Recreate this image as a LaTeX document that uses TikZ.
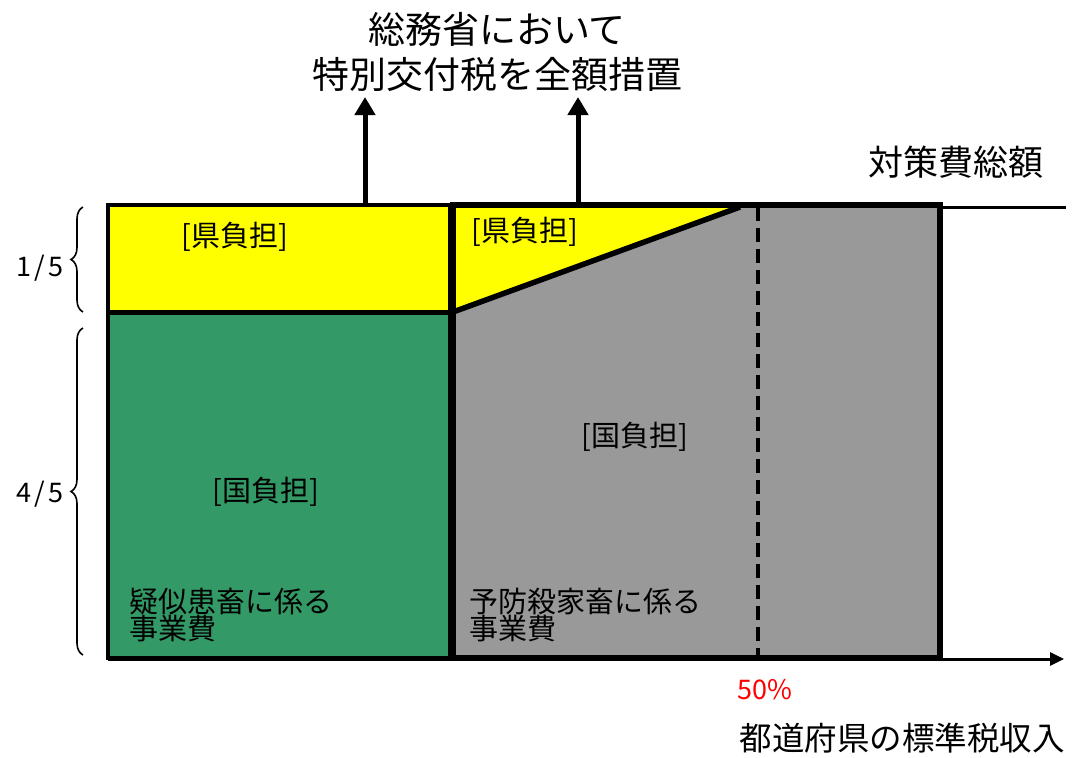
\documentclass[tikz,border=0pt]{standalone}
\usepackage{fontspec}
\setmainfont{Noto Sans CJK JP}
\usetikzlibrary{arrows.meta,decorations.pathreplacing}
\definecolor{bgreen}{RGB}{51,153,102}
\definecolor{bgray}{RGB}{153,153,153}
\definecolor{byellow}{RGB}{255,255,0}
\begin{document}
\begin{tikzpicture}[x=1pt,y=-1pt,
  lbl/.style={font=\fontsize{29}{27}\selectfont, inner sep=0pt},
  big/.style={font=\fontsize{37}{45}\selectfont, align=center, inner sep=0pt},
  frac/.style={font=\fontsize{27}{27}\selectfont, inner sep=0pt},
  uparrow/.style={line width=5pt, -{Triangle[width=20pt,length=18pt]}},
  bracestyle/.style={decorate, decoration={brace, amplitude=12pt}, line width=1.6pt}]
\useasboundingbox (0,0) rectangle (1072,758);
% left block
\fill[byellow] (108,205) rectangle (450,312);
\fill[bgreen] (108,312) rectangle (450,658);
\draw[line width=3.5pt] (108,205) rectangle (450,658);
\draw[line width=5pt] (108,312) -- (450,312);
% right block
\fill[bgray] (453,205) rectangle (940,658);
\fill[byellow] (453,205) -- (740,205) -- (453,312) -- cycle;
\draw[line width=5.5pt] (453,312) -- (740,207);
\draw[line width=4pt, dash pattern=on 14pt off 7pt] (758,207) -- (758,658);
\draw[line width=6pt] (453,205) rectangle (940,658);
\draw[line width=3pt] (940,207) -- (1066,207);
% axis
\coordinate (ax0) at (108,659);
\coordinate (ax1) at (1064,659);
\draw[line width=3pt, -{Triangle[width=13pt,length=14pt]}] (ax0) -- (ax1);
% up arrows
\coordinate (a1s) at (365,205);
\coordinate (a1e) at (365,97);
\coordinate (a2s) at (578,205);
\coordinate (a2e) at (578,97);
\draw[uparrow] (a1s) -- (a1e);
\draw[uparrow] (a2s) -- (a2e);
% texts
\node[big] (title) at (497,52) {総務省において\\特別交付税を全額措置};
\node[font=\fontsize{35}{40}\selectfont, inner sep=0pt] (total) at (956,162) {対策費総額};
\node[lbl] (kenL) at (235,237) {[県負担]};
\node[lbl] (kenR) at (525,232) {[県負担]};
\node[lbl] (kokuL) at (266,492) {[国負担]};
\node[lbl] (kokuR) at (635,437) {[国負担]};
\node[lbl, align=left, anchor=north west] (jigyoL) at (129,588) {疑似患畜に係る\\事業費};
\node[lbl, align=left, anchor=north west] (jigyoR) at (469,588) {予防殺家畜に係る\\事業費};
\node[frac] (f1) at (40,268) {1\hspace{3pt}/\hspace{3pt}5};
\node[frac] (f4) at (40,494) {4\hspace{3pt}/\hspace{3pt}5};
\node[font=\fontsize{27}{27}\selectfont, text=red, inner sep=0pt] (pct) at (765,690) {50\%};
\node[font=\fontsize{32.5}{36}\selectfont, inner sep=0pt] (std) at (902,738) {都道府県の標準税収入};
% braces
\coordinate (b1s) at (83,312);
\coordinate (b1e) at (83,207);
\coordinate (b2s) at (83,655);
\coordinate (b2e) at (83,328);
\draw[bracestyle] (b1s) -- (b1e);
\draw[bracestyle] (b2s) -- (b2e);
\end{tikzpicture}
\end{document}
